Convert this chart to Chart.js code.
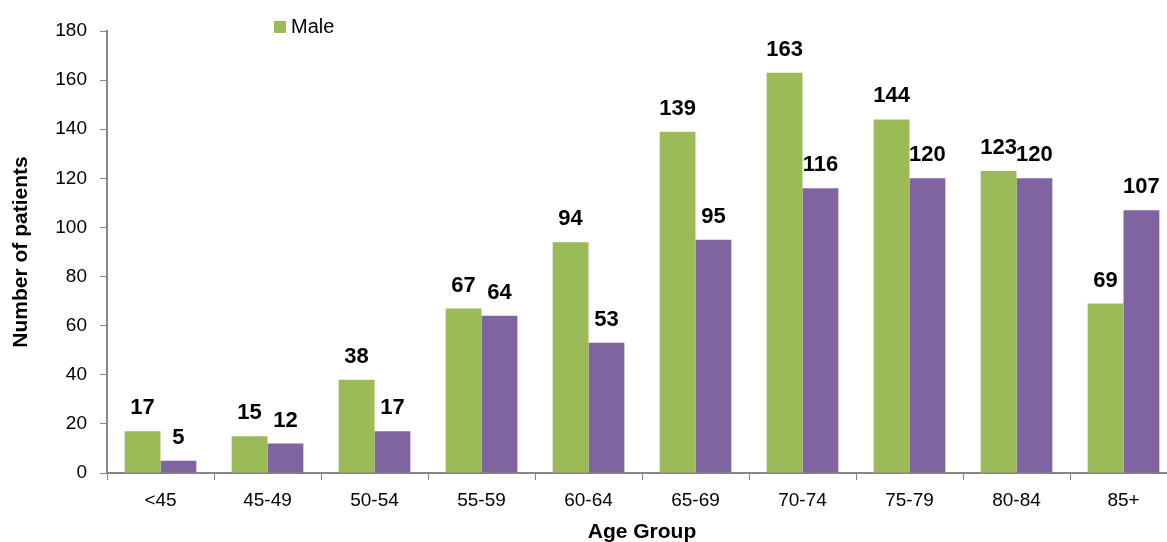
<!DOCTYPE html>
<html>
<head>
<meta charset="utf-8">
<script src="https://cdn.jsdelivr.net/npm/chart.js@4"></script>
<style>
  html, body { margin: 0; padding: 0; background: #fff; overflow: hidden; }
  #wrap { width: 1167px; height: 542px; overflow: hidden; }
</style>
</head>
<body>
<div id="wrap"><canvas id="chart" width="1178" height="542"></canvas></div>
<script>
const ageGroups = ['<45', '45-49', '50-54', '55-59', '60-64', '65-69', '70-74', '75-79', '80-84', '85+'];
const male = [17, 15, 38, 67, 94, 139, 163, 144, 123, 69];
const female = [5, 12, 17, 64, 53, 95, 116, 120, 120, 107];
const yTicks = [0, 20, 40, 60, 80, 100, 120, 140, 160, 180];

const FONT = 'Arial, "Liberation Sans", sans-serif';
const AXIS_GREY = '#868686';

// value printed above every bar
const barValues = {
    id: 'barValues',
    afterDatasetsDraw(chart) {
        const ctx = chart.ctx;
        ctx.save();
        ctx.font = 'bold 22px ' + FONT;
        ctx.fillStyle = '#000';
        ctx.textAlign = 'center';
        ctx.textBaseline = 'middle';
        chart.data.datasets.forEach((ds, i) => {
            chart.getDatasetMeta(i).data.forEach((bar, j) => {
                ctx.fillText(ds.data[j], bar.x, bar.y - 23);
            });
        });
        ctx.restore();
    }
};

// single legend entry sitting inside the plot area
const maleKey = {
    id: 'maleKey',
    afterDraw(chart) {
        const ctx = chart.ctx;
        const ds = chart.data.datasets[0];
        ctx.save();
        ctx.fillStyle = ds.backgroundColor;
        ctx.fillRect(274, 21, 12, 12);
        ctx.fillStyle = '#000';
        ctx.font = '20px ' + FONT;
        ctx.textBaseline = 'middle';
        ctx.fillText(ds.label, 291, 27);
        ctx.restore();
    }
};

window.onload = () => {
    const ctx = document.getElementById('chart');

    new Chart(ctx, {
        type: 'bar',
        data: {
            labels: ageGroups,
            datasets: [
                {
                    label: 'Male',
                    data: male,
                    backgroundColor: '#9BBB59',
                    borderWidth: 0
                },
                {
                    label: 'Female',
                    data: female,
                    backgroundColor: '#8064A2',
                    borderWidth: 0
                }
            ]
        },
        options: {
            responsive: false,
            animation: false,
            layout: {
                padding: { top: 31, right: 1, left: 0, bottom: 0 }
            },
            datasets: {
                bar: {
                    barPercentage: 1,
                    categoryPercentage: 0.67
                }
            },
            scales: {
                x: {
                    afterFit: s => { s.height = 69; },
                    border: { color: AXIS_GREY, width: 2 },
                    grid: {
                        offset: true,
                        drawOnChartArea: false,
                        drawTicks: true,
                        tickLength: 7,
                        color: AXIS_GREY
                    },
                    ticks: {
                        color: '#000',
                        padding: 9,
                        maxRotation: 0,
                        font: { family: FONT, size: 19 }
                    },
                    title: {
                        display: true,
                        text: 'Age Group',
                        color: '#000',
                        padding: { top: 0, bottom: 0 },
                        font: { family: FONT, size: 21, weight: 'bold', lineHeight: 0.95 }
                    }
                },
                y: {
                    min: 0,
                    max: 180,
                    afterFit: s => { s.width = 107; },
                    afterBuildTicks: s => { s.ticks = yTicks.map(v => ({ value: v })); },
                    border: { color: AXIS_GREY, width: 2 },
                    grid: {
                        drawOnChartArea: false,
                        drawTicks: true,
                        tickLength: 7,
                        color: AXIS_GREY
                    },
                    ticks: {
                        color: '#000',
                        padding: 13,
                        font: { family: FONT, size: 19 }
                    },
                    title: {
                        display: true,
                        text: 'Number of patients',
                        color: '#000',
                        padding: { top: 9, bottom: 0 },
                        font: { family: FONT, size: 21, weight: 'bold', lineHeight: 1.2 }
                    }
                }
            },
            plugins: {
                legend: { display: false },
                tooltip: { enabled: false }
            }
        },
        plugins: [barValues, maleKey]
    });
};
</script>
</body>
</html>
